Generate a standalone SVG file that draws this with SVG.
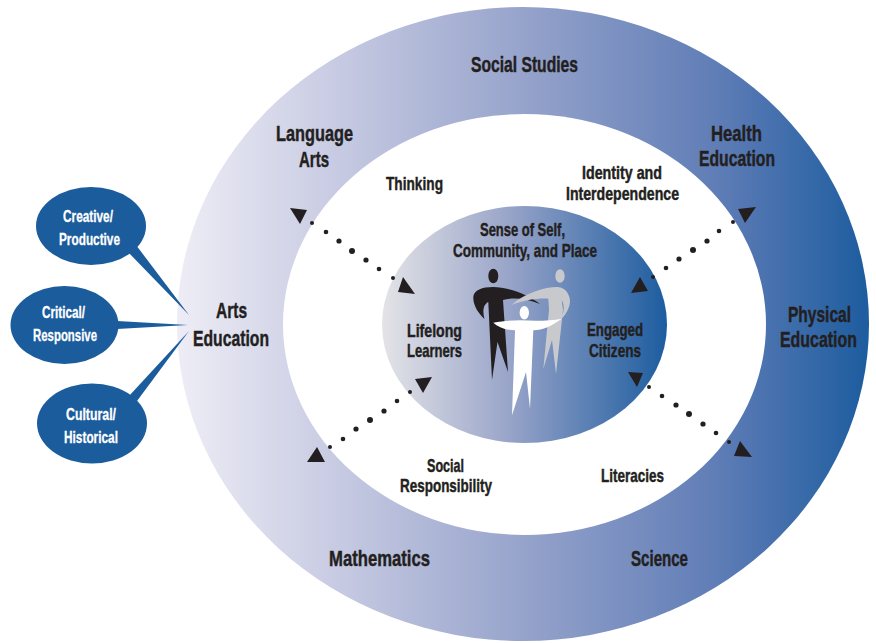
<svg xmlns="http://www.w3.org/2000/svg" width="876" height="643" viewBox="0 0 876 643">
<defs>
<linearGradient id="gOuter" gradientUnits="userSpaceOnUse" x1="177" y1="0" x2="870" y2="0">
<stop offset="0" stop-color="#eeedf6"/>
<stop offset="0.22" stop-color="#c9cce3"/>
<stop offset="0.5" stop-color="#96a3cb"/>
<stop offset="0.78" stop-color="#5f7db6"/>
<stop offset="1" stop-color="#1c5c9f"/>
</linearGradient>
<linearGradient id="gCenter" gradientUnits="userSpaceOnUse" x1="382" y1="0" x2="668" y2="0">
<stop offset="0" stop-color="#e4e4e7"/>
<stop offset="0.45" stop-color="#97a3c8"/>
<stop offset="1" stop-color="#1c5c9f"/>
</linearGradient>
<style>
.t{font-family:"Liberation Sans Narrow","Liberation Sans","DejaVu Sans Condensed",sans-serif;font-weight:bold;fill:#231f20;stroke:#231f20;stroke-width:0.45;text-anchor:middle}
.big{font-size:22px}
.mid{font-size:18.5px}
.sm{font-size:16.5px;fill:#ffffff;stroke:#ffffff;stroke-width:0.3}
.bub{fill:#1b5c9d}
.dot{fill:#231f20}
.tri{fill:#231f20}
</style>
</defs>

<g id="rings">
<ellipse cx="523" cy="324" rx="346" ry="317" fill="url(#gOuter)"/>
<ellipse cx="524.5" cy="324.5" rx="241.5" ry="210.5" fill="#ffffff"/>
</g>

<g id="center">
<ellipse cx="524.5" cy="324.5" rx="142.5" ry="118.5" fill="url(#gCenter)"/>
</g>

<g id="connectors">
<polygon class="bub" points="128,252 136,245 189,315"/>
<polygon class="bub" points="117,321 117,329 188,325"/>
<polygon class="bub" points="129,396 137,401 189,331"/>
<polygon class="tri" points="290,208 307,210 300,224"/>
<circle class="dot" cx="312" cy="223" r="2"/>
<circle class="dot" cx="326" cy="232" r="2.3"/>
<circle class="dot" cx="339" cy="241" r="2.6"/>
<circle class="dot" cx="352" cy="251" r="3"/>
<circle class="dot" cx="366" cy="260" r="2.6"/>
<circle class="dot" cx="379" cy="269" r="2.3"/>
<circle class="dot" cx="393" cy="278" r="2"/>
<polygon class="tri" points="403,277 415,294 398,292"/>
<polygon class="tri" points="738,209 756,207 745,223"/>
<circle class="dot" cx="733" cy="222" r="2"/>
<circle class="dot" cx="719" cy="231" r="2.3"/>
<circle class="dot" cx="707" cy="241" r="2.6"/>
<circle class="dot" cx="693" cy="250" r="3"/>
<circle class="dot" cx="679" cy="259" r="2.6"/>
<circle class="dot" cx="666" cy="268" r="2.3"/>
<circle class="dot" cx="653" cy="277" r="2"/>
<polygon class="tri" points="631,293 640,277 648,291"/>
<polygon class="tri" points="628,372 643,373 637,387"/>
<circle class="dot" cx="649" cy="387" r="2"/>
<circle class="dot" cx="662" cy="396" r="2.3"/>
<circle class="dot" cx="676" cy="405" r="2.6"/>
<circle class="dot" cx="689" cy="414" r="3"/>
<circle class="dot" cx="703" cy="424" r="2.6"/>
<circle class="dot" cx="716" cy="433" r="2.3"/>
<circle class="dot" cx="729" cy="442" r="2"/>
<polygon class="tri" points="740,441 752,457 734,456"/>
<polygon class="tri" points="415,379 432,377 423,393"/>
<circle class="dot" cx="410" cy="392" r="2"/>
<circle class="dot" cx="397" cy="401" r="2.3"/>
<circle class="dot" cx="384" cy="411" r="2.6"/>
<circle class="dot" cx="370" cy="420" r="3"/>
<circle class="dot" cx="356" cy="429" r="2.6"/>
<circle class="dot" cx="343" cy="439" r="2.3"/>
<circle class="dot" cx="330" cy="447" r="2"/>
<polygon class="tri" points="307,462 317,447 325,462"/>
</g>

<g id="figures">
<ellipse cx="493.3" cy="276" rx="5" ry="7.3" fill="#231f20"/>
<path fill="#231f20" d="M473.3 297 C474 290 482 287 493 287 C510 287 530 296 540 304 C528 299 515 297 503 300 L508 372 L497.5 342 L492 380 L488.3 302 C484 304 482 310 484.5 319 C478 313 473 305 473.3 297 Z"/>
<ellipse cx="560" cy="276" rx="4.7" ry="6.7" fill="#c8c9cd"/>
<path fill="#c8c9cd" d="M557 287 C545 287 525 293 511.7 304.7 C525 300 538 298 548.3 298.7 L549 310 L543.3 369 L552 340 L556 374 L563 310 L561.7 300 C565 306 564 314 560 320.3 C568 313 572 303 569 296 C567 290 562 287 557 287 Z"/>
<ellipse cx="524.3" cy="312.7" rx="4.7" ry="6.7" fill="#ffffff"/>
<path fill="#ffffff" d="M493.3 322.7 C502 321 512 320.5 520 320.3 C535 321 550 321 561.7 318.7 C552 326 543 330 533.3 330.3 L530 409 L526 372 L512 415.3 L515 330.3 C505 330 498 327 493.3 322.7 Z"/>
</g>

<g id="node-social-studies"><text class="t big" x="524.5" y="72" textLength="107" lengthAdjust="spacingAndGlyphs">Social Studies</text></g>
<g id="node-language-arts">
<text class="t big" x="314.5" y="141" textLength="77" lengthAdjust="spacingAndGlyphs">Language</text>
<text class="t big" x="314" y="166.5" textLength="30" lengthAdjust="spacingAndGlyphs">Arts</text>
</g>
<g id="node-health-education">
<text class="t big" x="736.5" y="140.5" textLength="51" lengthAdjust="spacingAndGlyphs">Health</text>
<text class="t big" x="737" y="166" textLength="76" lengthAdjust="spacingAndGlyphs">Education</text>
</g>
<g id="node-arts-education">
<text class="t big" x="231.5" y="318" textLength="31" lengthAdjust="spacingAndGlyphs">Arts</text>
<text class="t big" x="231" y="346" textLength="76" lengthAdjust="spacingAndGlyphs">Education</text>
</g>
<g id="node-physical-education">
<text class="t big" x="819.5" y="322" textLength="63" lengthAdjust="spacingAndGlyphs">Physical</text>
<text class="t big" x="818.5" y="347" textLength="77" lengthAdjust="spacingAndGlyphs">Education</text>
</g>
<g id="node-mathematics"><text class="t big" x="379.5" y="565.5" textLength="101" lengthAdjust="spacingAndGlyphs">Mathematics</text></g>
<g id="node-science"><text class="t big" x="659.5" y="565.5" textLength="57" lengthAdjust="spacingAndGlyphs">Science</text></g>

<g id="node-thinking"><text class="t mid" x="414.5" y="189.5" textLength="57" lengthAdjust="spacingAndGlyphs">Thinking</text></g>
<g id="node-identity">
<text class="t mid" x="622" y="178.5" textLength="80" lengthAdjust="spacingAndGlyphs">Identity and</text>
<text class="t mid" x="622.5" y="200" textLength="113" lengthAdjust="spacingAndGlyphs">Interdependence</text>
</g>
<g id="node-social-responsibility">
<text class="t mid" x="445.5" y="472" textLength="37" lengthAdjust="spacingAndGlyphs">Social</text>
<text class="t mid" x="446" y="492" textLength="92" lengthAdjust="spacingAndGlyphs">Responsibility</text>
</g>
<g id="node-literacies"><text class="t mid" x="632.5" y="482" textLength="63" lengthAdjust="spacingAndGlyphs">Literacies</text></g>

<g id="node-sense-of-self">
<text class="t mid" x="522.5" y="236" textLength="85" lengthAdjust="spacingAndGlyphs">Sense of Self,</text>
<text class="t mid" x="525" y="257" textLength="144" lengthAdjust="spacingAndGlyphs">Community, and Place</text>
</g>
<g id="node-lifelong-learners">
<text class="t mid" x="434.5" y="337" textLength="55" lengthAdjust="spacingAndGlyphs">Lifelong</text>
<text class="t mid" x="434.5" y="357" textLength="55" lengthAdjust="spacingAndGlyphs">Learners</text>
</g>
<g id="node-engaged-citizens">
<text class="t mid" x="615" y="336" textLength="56" lengthAdjust="spacingAndGlyphs">Engaged</text>
<text class="t mid" x="615" y="357" textLength="52" lengthAdjust="spacingAndGlyphs">Citizens</text>
</g>

<g id="node-creative">
<ellipse class="bub" cx="91" cy="226" rx="55" ry="39"/>
<text class="t sm" x="88" y="222" textLength="50" lengthAdjust="spacingAndGlyphs">Creative/</text>
<text class="t sm" x="89.5" y="245" textLength="61" lengthAdjust="spacingAndGlyphs">Productive</text>
</g>
<g id="node-critical">
<ellipse class="bub" cx="64.5" cy="325" rx="54" ry="39"/>
<text class="t sm" x="63.5" y="318" textLength="43" lengthAdjust="spacingAndGlyphs">Critical/</text>
<text class="t sm" x="65" y="341" textLength="64" lengthAdjust="spacingAndGlyphs">Responsive</text>
</g>
<g id="node-cultural">
<ellipse class="bub" cx="92" cy="423.5" rx="55" ry="40"/>
<text class="t sm" x="91" y="420" textLength="50" lengthAdjust="spacingAndGlyphs">Cultural/</text>
<text class="t sm" x="91" y="443" textLength="54" lengthAdjust="spacingAndGlyphs">Historical</text>
</g>
</svg>
